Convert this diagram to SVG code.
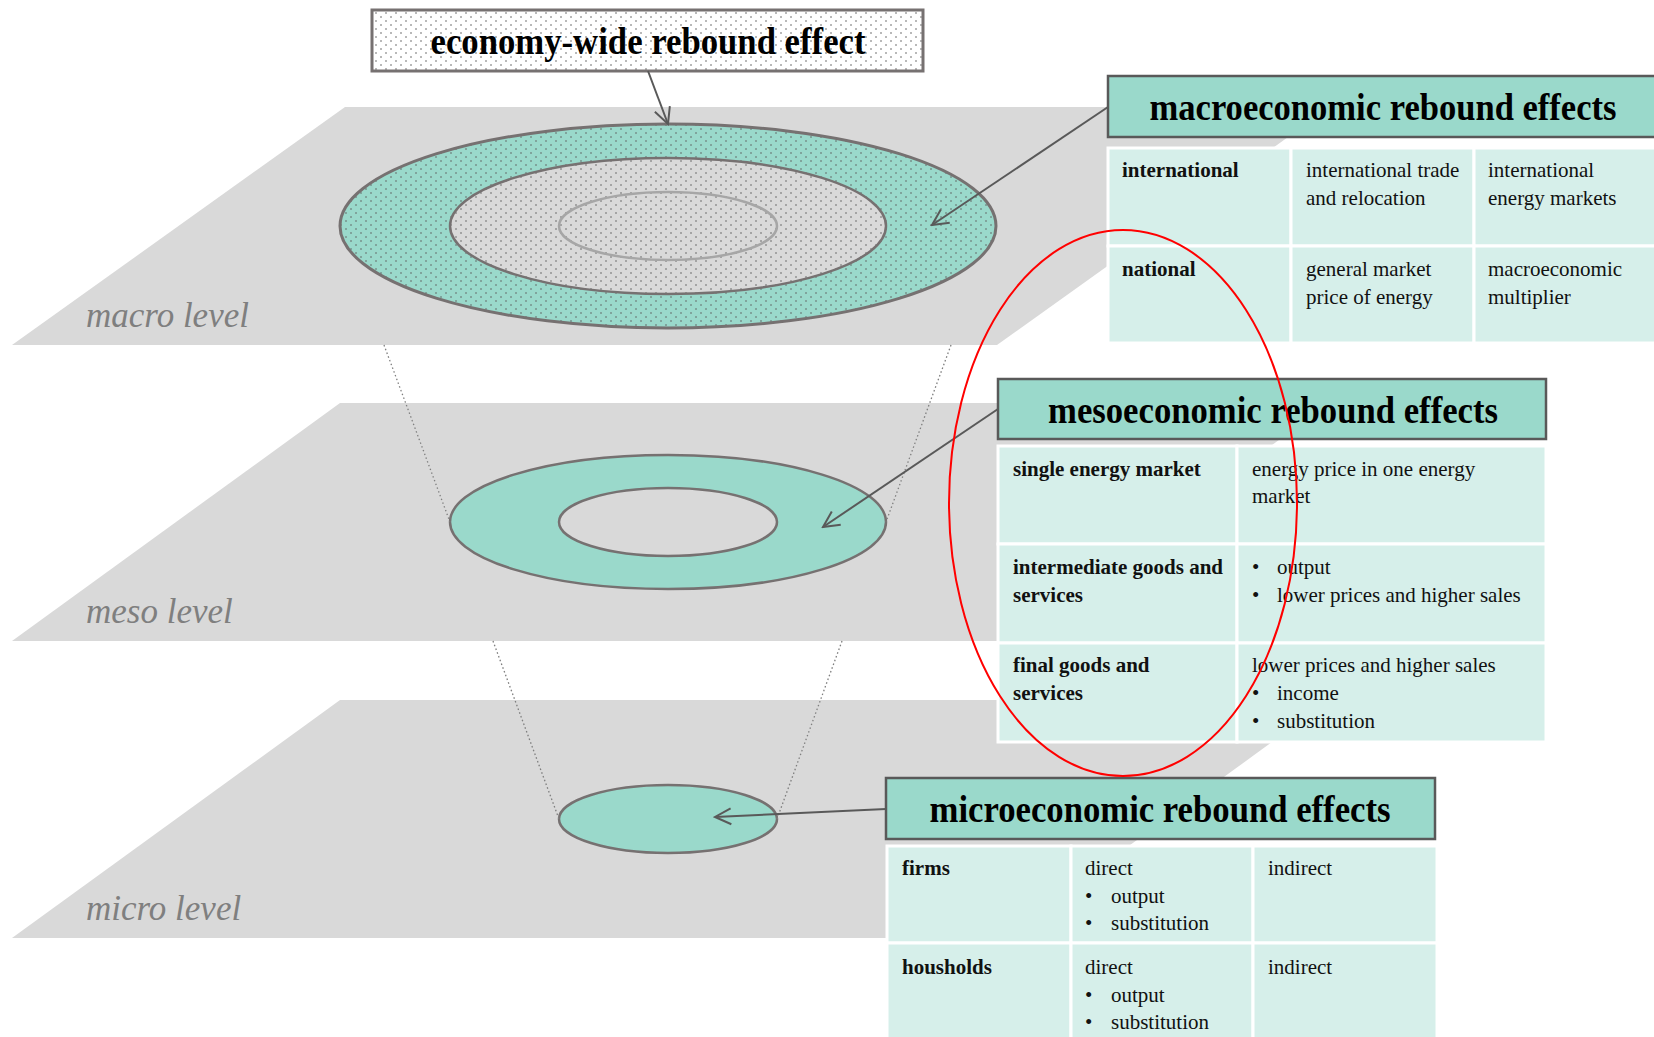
<svg xmlns="http://www.w3.org/2000/svg" width="1654" height="1037" viewBox="0 0 1654 1037">
<style>
.plane{fill:#d9d9d9}
.lvl{font-family:"Liberation Serif","Times New Roman",serif;font-style:italic;font-size:35px;fill:#7f7f7f}
.hdr{fill:#9ad9cb;stroke:#595959;stroke-width:2.5}
.hdrt{font-family:"Liberation Serif","Times New Roman",serif;font-weight:bold;font-size:38px;fill:#000;text-anchor:middle}
.cell{fill:#d6efea;stroke:#fff;stroke-width:3}
.t{font-family:"Liberation Serif","Times New Roman",serif;font-size:21px;fill:#111}
.b{font-weight:bold}
.con{stroke:#595959;stroke-width:2;fill:none}
.dot{stroke:#7f7f7f;stroke-width:1.3;stroke-dasharray:1.5 2.5;fill:none}
</style>
<defs>
<pattern id="dots" width="10" height="8" patternUnits="userSpaceOnUse">
<circle cx="1" cy="1" r="0.8" fill="#606060"/>
<circle cx="6" cy="5" r="0.8" fill="#606060"/>
</pattern>
<marker id="arr" viewBox="0 0 20 20" refX="18" refY="10" markerWidth="20" markerHeight="20" markerUnits="userSpaceOnUse" orient="auto">
<path d="M2,2 L18,10 L2,18" fill="none" stroke="#595959" stroke-width="2"/>
</marker>
</defs>
<rect width="1654" height="1037" fill="#fff"/>

<g id="macro-plane">
<polygon class="plane" points="12,345 345,107 1330,107 997,345"/>
<text class="lvl" x="86" y="327">macro level</text>
</g>
<g id="meso-plane">
<polygon class="plane" points="12,641 340,403 1330,403 1002,641"/>
<text class="lvl" x="86" y="623">meso level</text>
</g>
<g id="micro-plane">
<polygon class="plane" points="12,938 340,700 1330,700 1002,938"/>
<text class="lvl" x="86" y="920">micro level</text>
</g>

<g id="macro-rings">
<ellipse cx="668" cy="226" rx="328" ry="102" fill="#9ad9cb"/>
<ellipse cx="668" cy="226" rx="328" ry="102" fill="url(#dots)" stroke="#767171" stroke-width="3"/>
<ellipse cx="668" cy="226" rx="218" ry="68" fill="#d9d9d9"/>
<ellipse cx="668" cy="226" rx="218" ry="68" fill="url(#dots)" stroke="#767171" stroke-width="2.5"/>
<ellipse cx="668" cy="226" rx="109" ry="34" fill="none" stroke="#a6a6a6" stroke-width="2.5"/>
</g>
<g id="meso-rings">
<ellipse cx="668" cy="522" rx="218" ry="67" fill="#9ad9cb" stroke="#767171" stroke-width="2.5"/>
<ellipse cx="668" cy="522" rx="109" ry="34" fill="#d9d9d9" stroke="#767171" stroke-width="2.5"/>
</g>
<g id="micro-ring">
<ellipse cx="668" cy="819" rx="109" ry="34" fill="#9ad9cb" stroke="#767171" stroke-width="2.5"/>
</g>

<g id="guides">
<line class="dot" x1="384" y1="345" x2="450" y2="522"/>
<line class="dot" x1="951" y1="345" x2="886" y2="522"/>
<line class="dot" x1="493" y1="641" x2="559" y2="819"/>
<line class="dot" x1="842" y1="641" x2="777" y2="819"/>
</g>

<g id="title">
<rect x="372" y="10" width="551" height="61" fill="#fff"/>
<rect x="372" y="10" width="551" height="61" fill="url(#dots)" stroke="#767171" stroke-width="3"/>
<text class="hdrt" x="648" y="54" textLength="435" lengthAdjust="spacingAndGlyphs">economy-wide rebound effect</text>
</g>

<g id="macro-table">
<rect class="hdr" x="1108" y="76" width="548" height="61"/>
<text class="hdrt" x="1383" y="120" textLength="467" lengthAdjust="spacingAndGlyphs">macroeconomic rebound effects</text>
<rect class="cell" x="1108" y="148" width="183" height="98"/>
<rect class="cell" x="1291" y="148" width="183" height="98"/>
<rect class="cell" x="1474" y="148" width="184" height="98"/>
<rect class="cell" x="1108" y="246" width="183" height="97"/>
<rect class="cell" x="1291" y="246" width="183" height="97"/>
<rect class="cell" x="1474" y="246" width="184" height="97"/>
<text class="t b" x="1122" y="177">international</text>
<text class="t" x="1306" y="177">international trade</text>
<text class="t" x="1306" y="205">and relocation</text>
<text class="t" x="1488" y="177">international</text>
<text class="t" x="1488" y="205">energy markets</text>
<text class="t b" x="1122" y="276">national</text>
<text class="t" x="1306" y="276">general market</text>
<text class="t" x="1306" y="304">price of energy</text>
<text class="t" x="1488" y="276">macroeconomic</text>
<text class="t" x="1488" y="304">multiplier</text>
</g>

<g id="meso-table">
<rect class="hdr" x="998" y="379" width="548" height="60"/>
<text class="hdrt" x="1273" y="423" textLength="450" lengthAdjust="spacingAndGlyphs">mesoeconomic rebound effects</text>
<rect class="cell" x="998" y="446" width="239" height="98"/>
<rect class="cell" x="1237" y="446" width="309" height="98"/>
<rect class="cell" x="998" y="544" width="239" height="99"/>
<rect class="cell" x="1237" y="544" width="309" height="99"/>
<rect class="cell" x="998" y="643" width="239" height="99"/>
<rect class="cell" x="1237" y="643" width="309" height="99"/>
<text class="t b" x="1013" y="476">single energy market</text>
<text class="t" x="1252" y="476">energy price in one energy</text>
<text class="t" x="1252" y="503">market</text>
<text class="t b" x="1013" y="574">intermediate goods and</text>
<text class="t b" x="1013" y="602">services</text>
<text class="t" x="1252" y="574">•</text>
<text class="t" x="1277" y="574">output</text>
<text class="t" x="1252" y="602">•</text>
<text class="t" x="1277" y="602">lower prices and higher sales</text>
<text class="t b" x="1013" y="672">final goods and</text>
<text class="t b" x="1013" y="700">services</text>
<text class="t" x="1252" y="672">lower prices and higher sales</text>
<text class="t" x="1252" y="700">•</text>
<text class="t" x="1277" y="700">income</text>
<text class="t" x="1252" y="728">•</text>
<text class="t" x="1277" y="728">substitution</text>
</g>

<g id="micro-table">
<rect class="hdr" x="886" y="778" width="549" height="61"/>
<text class="hdrt" x="1160" y="822" textLength="461" lengthAdjust="spacingAndGlyphs">microeconomic rebound effects</text>
<rect class="cell" x="887" y="846" width="184" height="97"/>
<rect class="cell" x="1071" y="846" width="182" height="97"/>
<rect class="cell" x="1253" y="846" width="184" height="97"/>
<rect class="cell" x="887" y="943" width="184" height="100"/>
<rect class="cell" x="1071" y="943" width="182" height="100"/>
<rect class="cell" x="1253" y="943" width="184" height="100"/>
<text class="t b" x="902" y="875">firms</text>
<text class="t" x="1085" y="875">direct</text>
<text class="t" x="1085" y="903">•</text>
<text class="t" x="1111" y="903">output</text>
<text class="t" x="1085" y="930">•</text>
<text class="t" x="1111" y="930">substitution</text>
<text class="t" x="1268" y="875">indirect</text>
<text class="t b" x="902" y="974">housholds</text>
<text class="t" x="1085" y="974">direct</text>
<text class="t" x="1085" y="1002">•</text>
<text class="t" x="1111" y="1002">output</text>
<text class="t" x="1085" y="1029">•</text>
<text class="t" x="1111" y="1029">substitution</text>
<text class="t" x="1268" y="974">indirect</text>
</g>

<g id="connectors">
<line class="con" x1="648" y1="71" x2="668" y2="124" marker-end="url(#arr)"/>
<line class="con" x1="1108" y1="107" x2="932" y2="225" marker-end="url(#arr)"/>
<line class="con" x1="998" y1="409" x2="823" y2="527" marker-end="url(#arr)"/>
<line class="con" x1="886" y1="809" x2="715" y2="817" marker-end="url(#arr)"/>
</g>

<g id="highlight">
<ellipse cx="1123" cy="503" rx="174" ry="273" fill="none" stroke="#ff0000" stroke-width="2"/>
</g>
</svg>
